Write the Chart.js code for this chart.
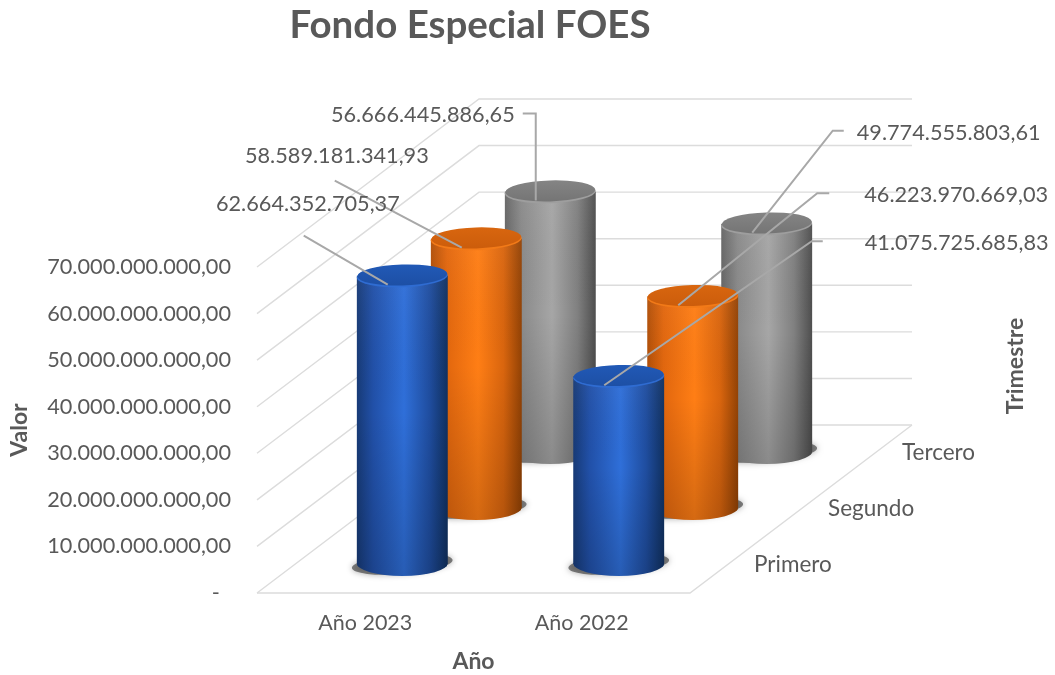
<!DOCTYPE html>
<html lang="es">
<head>
<meta charset="utf-8">
<title>Fondo Especial FOES</title>
<script src="https://cdn.jsdelivr.net/npm/chart.js@4"></script>
<style>
html,body{margin:0;padding:0;background:#fff}
#wrap{position:relative;width:1055px;height:675px}
</style>
</head>
<body>
<div id="wrap"><canvas id="c"></canvas></div>
<script>
const categories = ['Año 2023', 'Año 2022'];
const seriesNames = ['Primero', 'Segundo', 'Tercero'];
const primero = [62664352705.37, 41075725685.83];
const segundo = [58589181341.93, 46223970669.03];
const tercero = [56666445886.65, 49774555803.61];
const chartTitle = 'Fondo Especial FOES';
const xTitle = 'Año';
const yTitle = 'Valor';
const depthTitle = 'Trimestre';

const FONT = 'Lato, Carlito, sans-serif';
const TEXT = '#595959';
const GRID = '#dcdcdc';
const LABEL_SIZE = 21.7, AXIS_TITLE_SIZE = 23;
const DEPTH_X = 222, DEPTH_Y = 168;
const ROW_X = DEPTH_X / 3, ROW_Y = 56;
const RX = 45.5, RY = 11, DROP = 2.5, FOOT_UP = 4.5, FOOT_RY = 13;

const looks = [
  {stops:['#173a76','#2150a8','#2f6fd9','#1f4d9f','#10305f'], cap:['#2159b6','#1d4fa4'], rim:'#2f6cd2'},
  {stops:['#b14f08','#e2670e','#ff7e15','#d9650e','#924205'], cap:['#d8660f','#cb5c0b'], rim:'#f27a18'},
  {stops:['#666666','#8a8a8a','#a6a6a6','#808080','#4e4e4e'], cap:['#848484','#747474'], rim:'#9e9e9e'}
];

// leader line and text layout, relative to the point on each cylinder's cap
const leaderLayout = [
  [{path:[[-84,-49]], text:[12,-81], align:'right'},
   {path:[[207.5,-144],[218.5,-144]], text:[260.5,-142], align:'left'}],
  [{path:[[-127,-67]], text:[-33,-92], align:'right'},
   {path:[[139,-112],[151,-112]], text:[186,-110], align:'left'}],
  [{path:[[0,-87],[-13,-87]], text:[-21,-86], align:'right'},
   {path:[[80.5,-102],[91.5,-102]], text:[104.5,-100], align:'left'}]
];

function fmt(v){
  const [i,d] = v.toFixed(2).split('.');
  return i.replace(/\B(?=(\d{3})+(?!\d))/g,'.') + ',' + d;
}
function rowDx(i){ return DEPTH_X/6 + ROW_X*i; }
function rowDy(i){ return ROW_Y/2 + ROW_Y*i; }

function bodyFill(i){
  return function(ctx){
    const c = ctx.chart, sx = c.scales.x;
    if(!sx || ctx.dataIndex === undefined) return looks[i].stops[2];
    const x = sx.getPixelForValue(ctx.dataIndex);
    if(!Number.isFinite(x)) return looks[i].stops[2];
    const g = c.ctx.createLinearGradient(x-RX,0,x+RX,0);
    const p = [0,.18,.52,.8,1];
    looks[i].stops.forEach((s,k)=>g.addColorStop(p[k],s));
    return g;
  };
}
function bodyPath(ctx,el){
  const fy = el.base-FOOT_UP;
  ctx.moveTo(el.x+RX,el.y);
  ctx.lineTo(el.x-RX,el.y);
  ctx.lineTo(el.x-RX,fy);
  ctx.ellipse(el.x,fy,RX,FOOT_RY,0,Math.PI,0,true);
  ctx.closePath();
}

const cylinders = {
  id:'cylinders',
  beforeDatasetsDraw(chart){
    const {ctx} = chart, y = chart.scales.y, a = chart.chartArea;
    ctx.save();
    ctx.strokeStyle = GRID; ctx.lineWidth = 1.4;
    y.ticks.forEach(t=>{
      const py = y.getPixelForValue(t.value);
      ctx.beginPath();
      ctx.moveTo(a.left,py);
      ctx.lineTo(a.left+DEPTH_X,py-DEPTH_Y);
      ctx.lineTo(a.right+DEPTH_X,py-DEPTH_Y);
      ctx.stroke();
    });
    const p0 = y.getPixelForValue(0);
    ctx.beginPath();
    ctx.moveTo(a.left,p0); ctx.lineTo(a.right,p0); ctx.lineTo(a.right+DEPTH_X,p0-DEPTH_Y);
    ctx.stroke();
    ctx.restore();
  },
  beforeDatasetDraw(chart,args){
    const {ctx} = chart, i = args.index, els = chart.getDatasetMeta(i).data;
    ctx.save();
    ctx.translate(rowDx(i), -rowDy(i)+DROP);
    els.forEach(el=>{
      // floor shadow
      ctx.save();
      ctx.shadowColor='rgba(0,0,0,.55)'; ctx.shadowBlur=6;
      ctx.fillStyle='rgba(50,50,50,.6)';
      ctx.beginPath();
      ctx.ellipse(el.x,el.base-FOOT_UP+1,RX+5,FOOT_RY-3,-0.08,0,Math.PI*2);
      ctx.fill();
      ctx.restore();
      // rounded foot of the cylinder
      ctx.fillStyle = el.options.backgroundColor;
      ctx.beginPath();
      ctx.ellipse(el.x,el.base-FOOT_UP,RX,FOOT_RY,0,0,Math.PI);
      ctx.fill();
    });
    // the library's bars are trimmed to the cylinder outline
    ctx.save();
    ctx.beginPath();
    els.forEach(el=>bodyPath(ctx,el));
    ctx.clip();
  },
  afterDatasetDraw(chart,args){
    const {ctx} = chart, i = args.index, look = looks[i];
    ctx.restore();
    chart.getDatasetMeta(i).data.forEach(el=>{
      // body shading, darker towards the floor
      const v = ctx.createLinearGradient(0,el.y,0,el.base+RY);
      v.addColorStop(0,'rgba(255,255,255,.04)');
      v.addColorStop(.45,'rgba(0,0,0,0)');
      v.addColorStop(1,'rgba(0,0,0,.17)');
      ctx.fillStyle = v;
      ctx.beginPath();
      bodyPath(ctx,el);
      ctx.fill();
      // cap with a lit rim
      ctx.fillStyle = look.rim;
      ctx.beginPath();
      ctx.ellipse(el.x,el.y+.6,RX,RY,-0.03,0,Math.PI*2);
      ctx.fill();
      const c = ctx.createLinearGradient(0,el.y-RY,0,el.y+RY);
      c.addColorStop(0,look.cap[0]);
      c.addColorStop(1,look.cap[1]);
      ctx.fillStyle = c;
      ctx.beginPath();
      ctx.ellipse(el.x,el.y-.7,RX-.5,RY-.5,-0.03,0,Math.PI*2);
      ctx.fill();
    });
    ctx.restore();
  },
  afterDatasetsDraw(chart){
    const {ctx} = chart;
    ctx.save();
    // leader lines and value labels
    chart.data.datasets.forEach((ds,i)=>{
      chart.getDatasetMeta(i).data.forEach((el,j)=>{
        const ax = el.x+rowDx(i)-14.5, ay = el.y-rowDy(i)+DROP+9;
        const l = leaderLayout[i][j];
        ctx.strokeStyle='#a8a8a8'; ctx.lineWidth=2;
        ctx.beginPath(); ctx.moveTo(ax,ay);
        l.path.forEach(p=>ctx.lineTo(ax+p[0],ay+p[1]));
        ctx.stroke();
      });
    });
    chart.data.datasets.forEach((ds,i)=>{
      chart.getDatasetMeta(i).data.forEach((el,j)=>{
        const ax = el.x+rowDx(i)-14.5, ay = el.y-rowDy(i)+DROP+9;
        const l = leaderLayout[i][j];
        ctx.fillStyle=TEXT; ctx.font=LABEL_SIZE+'px '+FONT;
        ctx.textAlign=l.align; ctx.textBaseline='middle';
        ctx.fillText(fmt(ds.data[j]),ax+l.text[0],ay+l.text[1]);
      });
    });
    // depth axis labels
    const a = chart.chartArea, p0 = chart.scales.y.getPixelForValue(0);
    ctx.fillStyle=TEXT; ctx.font='22.5px '+FONT; ctx.textAlign='left'; ctx.textBaseline='middle';
    seriesNames.forEach((n,i)=>ctx.fillText(n,a.right+27+rowDx(i),p0-rowDy(i)));
    // depth axis title
    ctx.font='bold '+AXIS_TITLE_SIZE+'px '+FONT; ctx.textAlign='center';
    ctx.translate(a.right+326,366);
    ctx.rotate(-Math.PI/2);
    ctx.fillText(depthTitle,0,0);
    ctx.restore();
  },
  afterLayout(chart){
    const t = chart.titleBlock;
    if(t){ t.left-=3.5; t.right-=3.5; }
  }
};

new Chart(document.getElementById('c'),{
  type:'bar',
  plugins:[cylinders],
  data:{
    labels:categories,
    datasets:[primero,segundo,tercero].map((d,i)=>({
      label:seriesNames[i],
      data:d,
      grouped:false,
      barThickness:RX*2,
      borderWidth:0,
      backgroundColor:bodyFill(i)
    }))
  },
  options:{
    responsive:true,
    maintainAspectRatio:false,
    animation:false,
    events:[],
    layout:{padding:{left:0,right:365,top:0,bottom:0}},
    plugins:{
      legend:{display:false},
      tooltip:{enabled:false},
      title:{
        display:true,text:chartTitle,fullSize:false,color:TEXT,
        font:{family:FONT,size:38.5,weight:'bold',lineHeight:1.2},
        padding:{top:2.9,bottom:217.9}
      }
    },
    scales:{
      x:{
        grid:{display:false},border:{display:false},
        ticks:{color:TEXT,font:{family:FONT,size:21.5},padding:9.4,maxRotation:0,autoSkip:false},
        title:{display:true,text:xTitle,color:TEXT,font:{family:FONT,size:AXIS_TITLE_SIZE,weight:'bold',lineHeight:1.2},padding:{top:0,bottom:0}},
        afterFit(s){ s.height = 82; }
      },
      y:{
        min:0,max:70000000000,
        grid:{display:false},border:{display:false},
        ticks:{
          stepSize:10000000000,color:TEXT,font:{family:FONT,size:LABEL_SIZE},padding:18,
          callback:v=>v===0?'-  ':fmt(v)
        },
        title:{display:true,text:yTitle,color:TEXT,font:{family:FONT,size:AXIS_TITLE_SIZE,weight:'bold',lineHeight:1.2},padding:{top:5.5,bottom:0}},
        afterFit(s){ s.width = 257; }
      }
    }
  }
});
</script>
</body>
</html>
